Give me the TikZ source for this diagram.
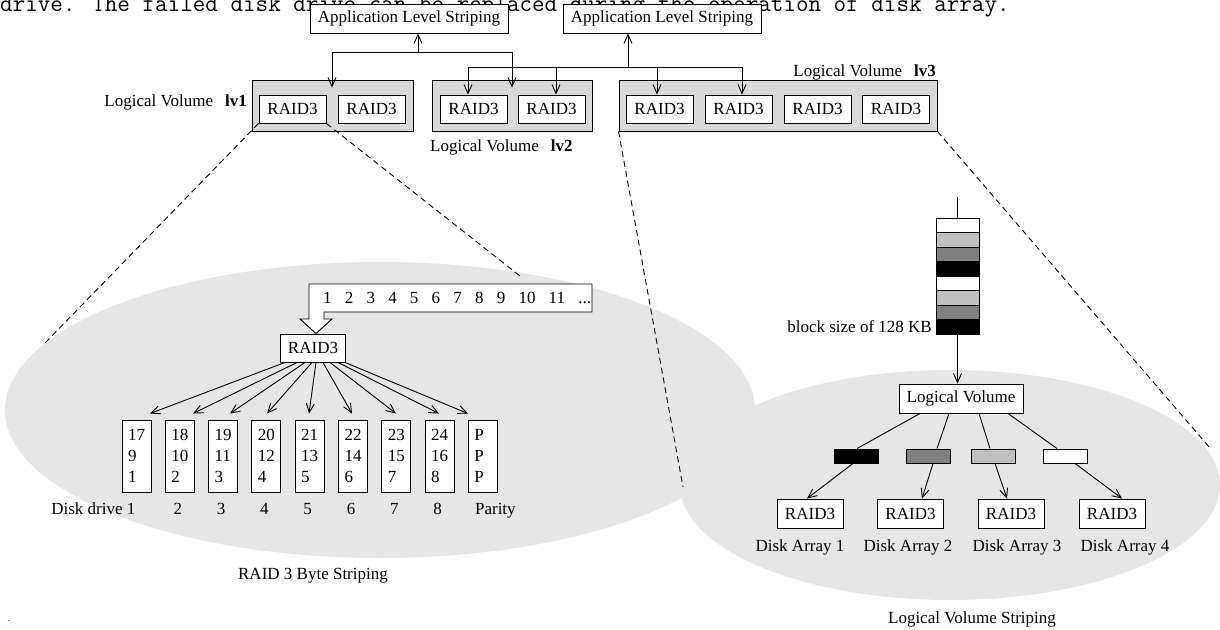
\documentclass[tikz,border=0pt]{standalone}
\usepackage{fontspec}
\setmainfont{Liberation Serif}
\usetikzlibrary{arrows.meta,calc}
\definecolor{ellgray}{HTML}{E6E6E6}
\definecolor{lvgray}{HTML}{D9D9D9}
\definecolor{lgray}{HTML}{C0C0C0}
\definecolor{mgray}{HTML}{808080}
\newcommand\gp{\hspace{13.2pt}}
\begin{document}
\begin{tikzpicture}[x=1pt,y=-1pt,
  every node/.style={font=\fontsize{17}{21}\selectfont},
  lw/.style={line width=0.9pt},
  box/.style={draw, fill=white, line width=0.9pt, inner sep=0pt, minimum height=29pt},
  rbox/.style={box, minimum width=67pt, minimum height=28pt},
  lvbox/.style={draw, fill=lvgray, line width=0.9pt, inner sep=0pt, minimum height=51pt},
  disk/.style={draw, fill=white, line width=0.9pt, minimum width=29pt, minimum height=72pt, inner sep=0pt, text width=17pt, align=left},
  cell/.style={draw, line width=0.9pt, minimum width=43pt, minimum height=14.5pt, inner sep=0pt},
  blk/.style={draw, line width=0.9pt, minimum width=44pt, minimum height=14pt, inner sep=0pt},
  arr/.style={line width=0.9pt, -{Straight Barb[length=9pt,width=8pt]}},
  dsh/.style={line width=0.9pt, dash pattern=on 6pt off 4pt},
  lbl/.style={inner sep=0pt},
]
\useasboundingbox (0,0) rectangle (1220,629);

% background ellipses
\fill[ellgray] (380,410) ellipse [x radius=375pt, y radius=148pt];
\fill[ellgray] (950,485) ellipse [x radius=270pt, y radius=115pt];

% cut caption line
\node[anchor=base west, inner sep=0pt, font=\fontsize{24.4}{25}\ttfamily] (cap) at (0,12) {drive. The failed disk drive can be replaced during the operation of disk array.};

% top boxes
\node[box, minimum width=198pt] (app1) at (409,18.5) {Application Level Striping};
\node[box, minimum width=198pt] (app2) at (662,18.5) {Application Level Striping};

% logical volumes
\node[lvbox, minimum width=161pt] (lv1) at (332.5,105.5) {};
\node[lvbox, minimum width=160pt] (lv2) at (512,105.5) {};
\node[lvbox, minimum width=318pt] (lv3) at (778,105.5) {};
\node[rbox] (r1a) at (292.5,109) {RAID3};
\node[rbox] (r1b) at (371.5,109) {RAID3};
\node[rbox] (r2a) at (473.5,109) {RAID3};
\node[rbox] (r2b) at (551.5,109) {RAID3};
\node[rbox] (r3a) at (659.5,109) {RAID3};
\node[rbox] (r3b) at (738.5,109) {RAID3};
\node[rbox] (r3c) at (817.5,109) {RAID3};
\node[rbox] (r3d) at (896,109) {RAID3};

\node[lbl, anchor=base east] (l1) at (247,106) {Logical Volume\hspace{0.7em}\textbf{lv1}};
\node[lbl, anchor=base west] (l2) at (430,151) {Logical Volume\hspace{0.7em}\textbf{lv2}};
\node[lbl, anchor=base east] (l3) at (936,76) {Logical Volume\hspace{0.7em}\textbf{lv3}};

% bus 1
\coordinate (b1l) at (332,52);
\coordinate (b1m) at (418,52);
\coordinate (b1r) at (512,52);
\draw[lw] (b1l) -- (b1r);
\draw[arr] (b1m) -- (b1m |- app1.south);
\draw[arr] (b1l) -- ([yshift=-8pt]b1l |- lv1.north);
\draw[arr] (b1r) -- ([yshift=-8pt]b1r |- lv2.north);

% bus 2
\coordinate (b2l) at (468,67);
\coordinate (b2a) at (556,67);
\coordinate (b2m) at (628,67);
\coordinate (b2b) at (657,67);
\coordinate (b2r) at (742,67);
\draw[lw] (b2l) -- (b2r);
\draw[arr] (b2m) -- (b2m |- app2.south);
\draw[arr] (b2l) -- (b2l |- r2a.north);
\draw[arr] (b2a) -- (b2a |- r2b.north);
\draw[arr] (b2b) -- (b2b |- r3a.north);
\draw[arr] (b2r) -- (b2r |- r3b.north);

% zoom lines
\coordinate (e1a) at (45,343);
\coordinate (e1b) at (520,276);
\coordinate (e2a) at (683,487);
\coordinate (e2b) at (1210,448);
\draw[dsh] (r1a.south west) -- (e1a);
\draw[dsh] (r1a.south east) -- (e1b);
\draw[dsh] (lv3.south west) -- (e2a);
\draw[dsh] (lv3.south east) -- (e2b);

% ---------- RAID 3 byte striping ----------
\node[box, minimum width=65pt, minimum height=28pt] (raid) at (313,348) {RAID3};
\draw[lw, fill=white] (309,284) -- (592,284) -- (592,312) -- (324,312) -- (324,319) -- (332,319) -- (raid.north -| 316,0) -- (300,319) -- (309,319) -- cycle;
\node[lbl, anchor=base west] (nums) at (323,303) {1\gp 2\gp 3\gp 4\gp 5\gp 6\gp 7\gp 8\gp 9\gp 10\gp 11\gp ...};

\node[disk] (d1) at (136.5,456) {17\\9\\1};
\node[disk] (d2) at (179.8,456) {18\\10\\2};
\node[disk] (d3) at (223.1,456) {19\\11\\3};
\node[disk] (d4) at (266.4,456) {20\\12\\4};
\node[disk] (d5) at (309.7,456) {21\\13\\5};
\node[disk] (d6) at (353,456) {22\\14\\6};
\node[disk] (d7) at (396.3,456) {23\\15\\7};
\node[disk] (d8) at (439.6,456) {24\\16\\8};
\node[disk] (d9) at (482.9,456) {P\\P\\P};

\foreach \s/\e/\n in {-28/13.5/1, -16/13.2/2, -8/6.9/3, -1/0.6/4, 3/-0.7/5, 10/-1/6, 17/-0.3/7, 25/-0.6/8, 32/-14.9/9}
  \draw[arr] ([xshift=\s pt]raid.south) -- ([xshift=\e pt, yshift=6pt]d\n.north);

\node[lbl, anchor=base east] (dl1) at ([xshift=-1pt, yshift=-22pt]d1.south) {Disk drive 1};
\node[lbl, anchor=base] (dl2) at ([xshift=-2pt, yshift=-22pt]d2.south) {2};
\node[lbl, anchor=base] (dl3) at ([xshift=-2pt, yshift=-22pt]d3.south) {3};
\node[lbl, anchor=base] (dl4) at ([xshift=-2pt, yshift=-22pt]d4.south) {4};
\node[lbl, anchor=base] (dl5) at ([xshift=-2pt, yshift=-22pt]d5.south) {5};
\node[lbl, anchor=base] (dl6) at ([xshift=-2pt, yshift=-22pt]d6.south) {6};
\node[lbl, anchor=base] (dl7) at ([xshift=-2pt, yshift=-22pt]d7.south) {7};
\node[lbl, anchor=base] (dl8) at ([xshift=-2pt, yshift=-22pt]d8.south) {8};
\node[lbl, anchor=base west] (dl9) at ([xshift=-8pt, yshift=-22pt]d9.south) {Parity};

\node[lbl, anchor=base] (t1) at (313,579) {RAID 3 Byte Striping};

% ---------- logical volume striping ----------
\coordinate (stk) at (957.5,197);
\node[cell, fill=white] (c1) at (957.5,225.25) {};
\node[cell, fill=lgray] (c2) at (957.5,239.75) {};
\node[cell, fill=mgray] (c3) at (957.5,254.25) {};
\node[cell, fill=black] (c4) at (957.5,268.75) {};
\node[cell, fill=white] (c5) at (957.5,283.25) {};
\node[cell, fill=lgray] (c6) at (957.5,297.75) {};
\node[cell, fill=mgray] (c7) at (957.5,312.25) {};
\node[cell, fill=black] (c8) at (957.5,326.75) {};
\draw[lw] (stk) -- (c1.north);
\node[lbl, anchor=base east] (bs) at (932,332) {block size of 128 KB};

\node[box, minimum width=124pt] (lvm) at (961,398.5) {Logical Volume};
\draw[arr] (c8.south) -- (c8.south |- lvm.north);

\node[blk, fill=black] (k1) at (856,456) {};
\node[blk, fill=mgray] (k2) at (928.5,456) {};
\node[blk, fill=lgray] (k3) at (993.5,456) {};
\node[blk, fill=white] (k4) at (1065,456) {};

\draw[lw] ([xshift=-41pt]lvm.south) -- ([xshift=1pt]k1.north);
\draw[lw] ([xshift=-12pt]lvm.south) -- ([xshift=8.5pt]k2.north);
\draw[lw] ([xshift=18pt]lvm.south) -- ([xshift=-3.5pt]k3.north);
\draw[lw] ([xshift=47pt]lvm.south) -- ([xshift=-8pt]k4.north);

\node[box, minimum width=66pt] (a1) at (810,513.5) {RAID3};
\node[box, minimum width=66pt] (a2) at (910.5,513.5) {RAID3};
\node[box, minimum width=66pt] (a3) at (1011,513.5) {RAID3};
\node[box, minimum width=66pt] (a4) at (1112,513.5) {RAID3};

\draw[arr] ([xshift=-3pt]k1.south) -- ([xshift=-3pt]a1.north);
\draw[arr] ([xshift=4.5pt]k2.south) -- ([xshift=11.5pt]a2.north);
\draw[arr] ([xshift=1.5pt]k3.south) -- ([xshift=-4pt]a3.north);
\draw[arr] ([xshift=10pt]k4.south) -- ([xshift=10pt]a4.north);

\node[lbl, anchor=base] (al1) at (800,551) {Disk Array 1};
\node[lbl, anchor=base] (al2) at (908,551) {Disk Array 2};
\node[lbl, anchor=base] (al3) at (1017,551) {Disk Array 3};
\node[lbl, anchor=base] (al4) at (1125,551) {Disk Array 4};

\node[lbl, anchor=base] (t2) at (972,623) {Logical Volume Striping};

\node[lbl, font=\fontsize{9}{9}\selectfont] (dot) at (9,621) {.};
\end{tikzpicture}
\end{document}
